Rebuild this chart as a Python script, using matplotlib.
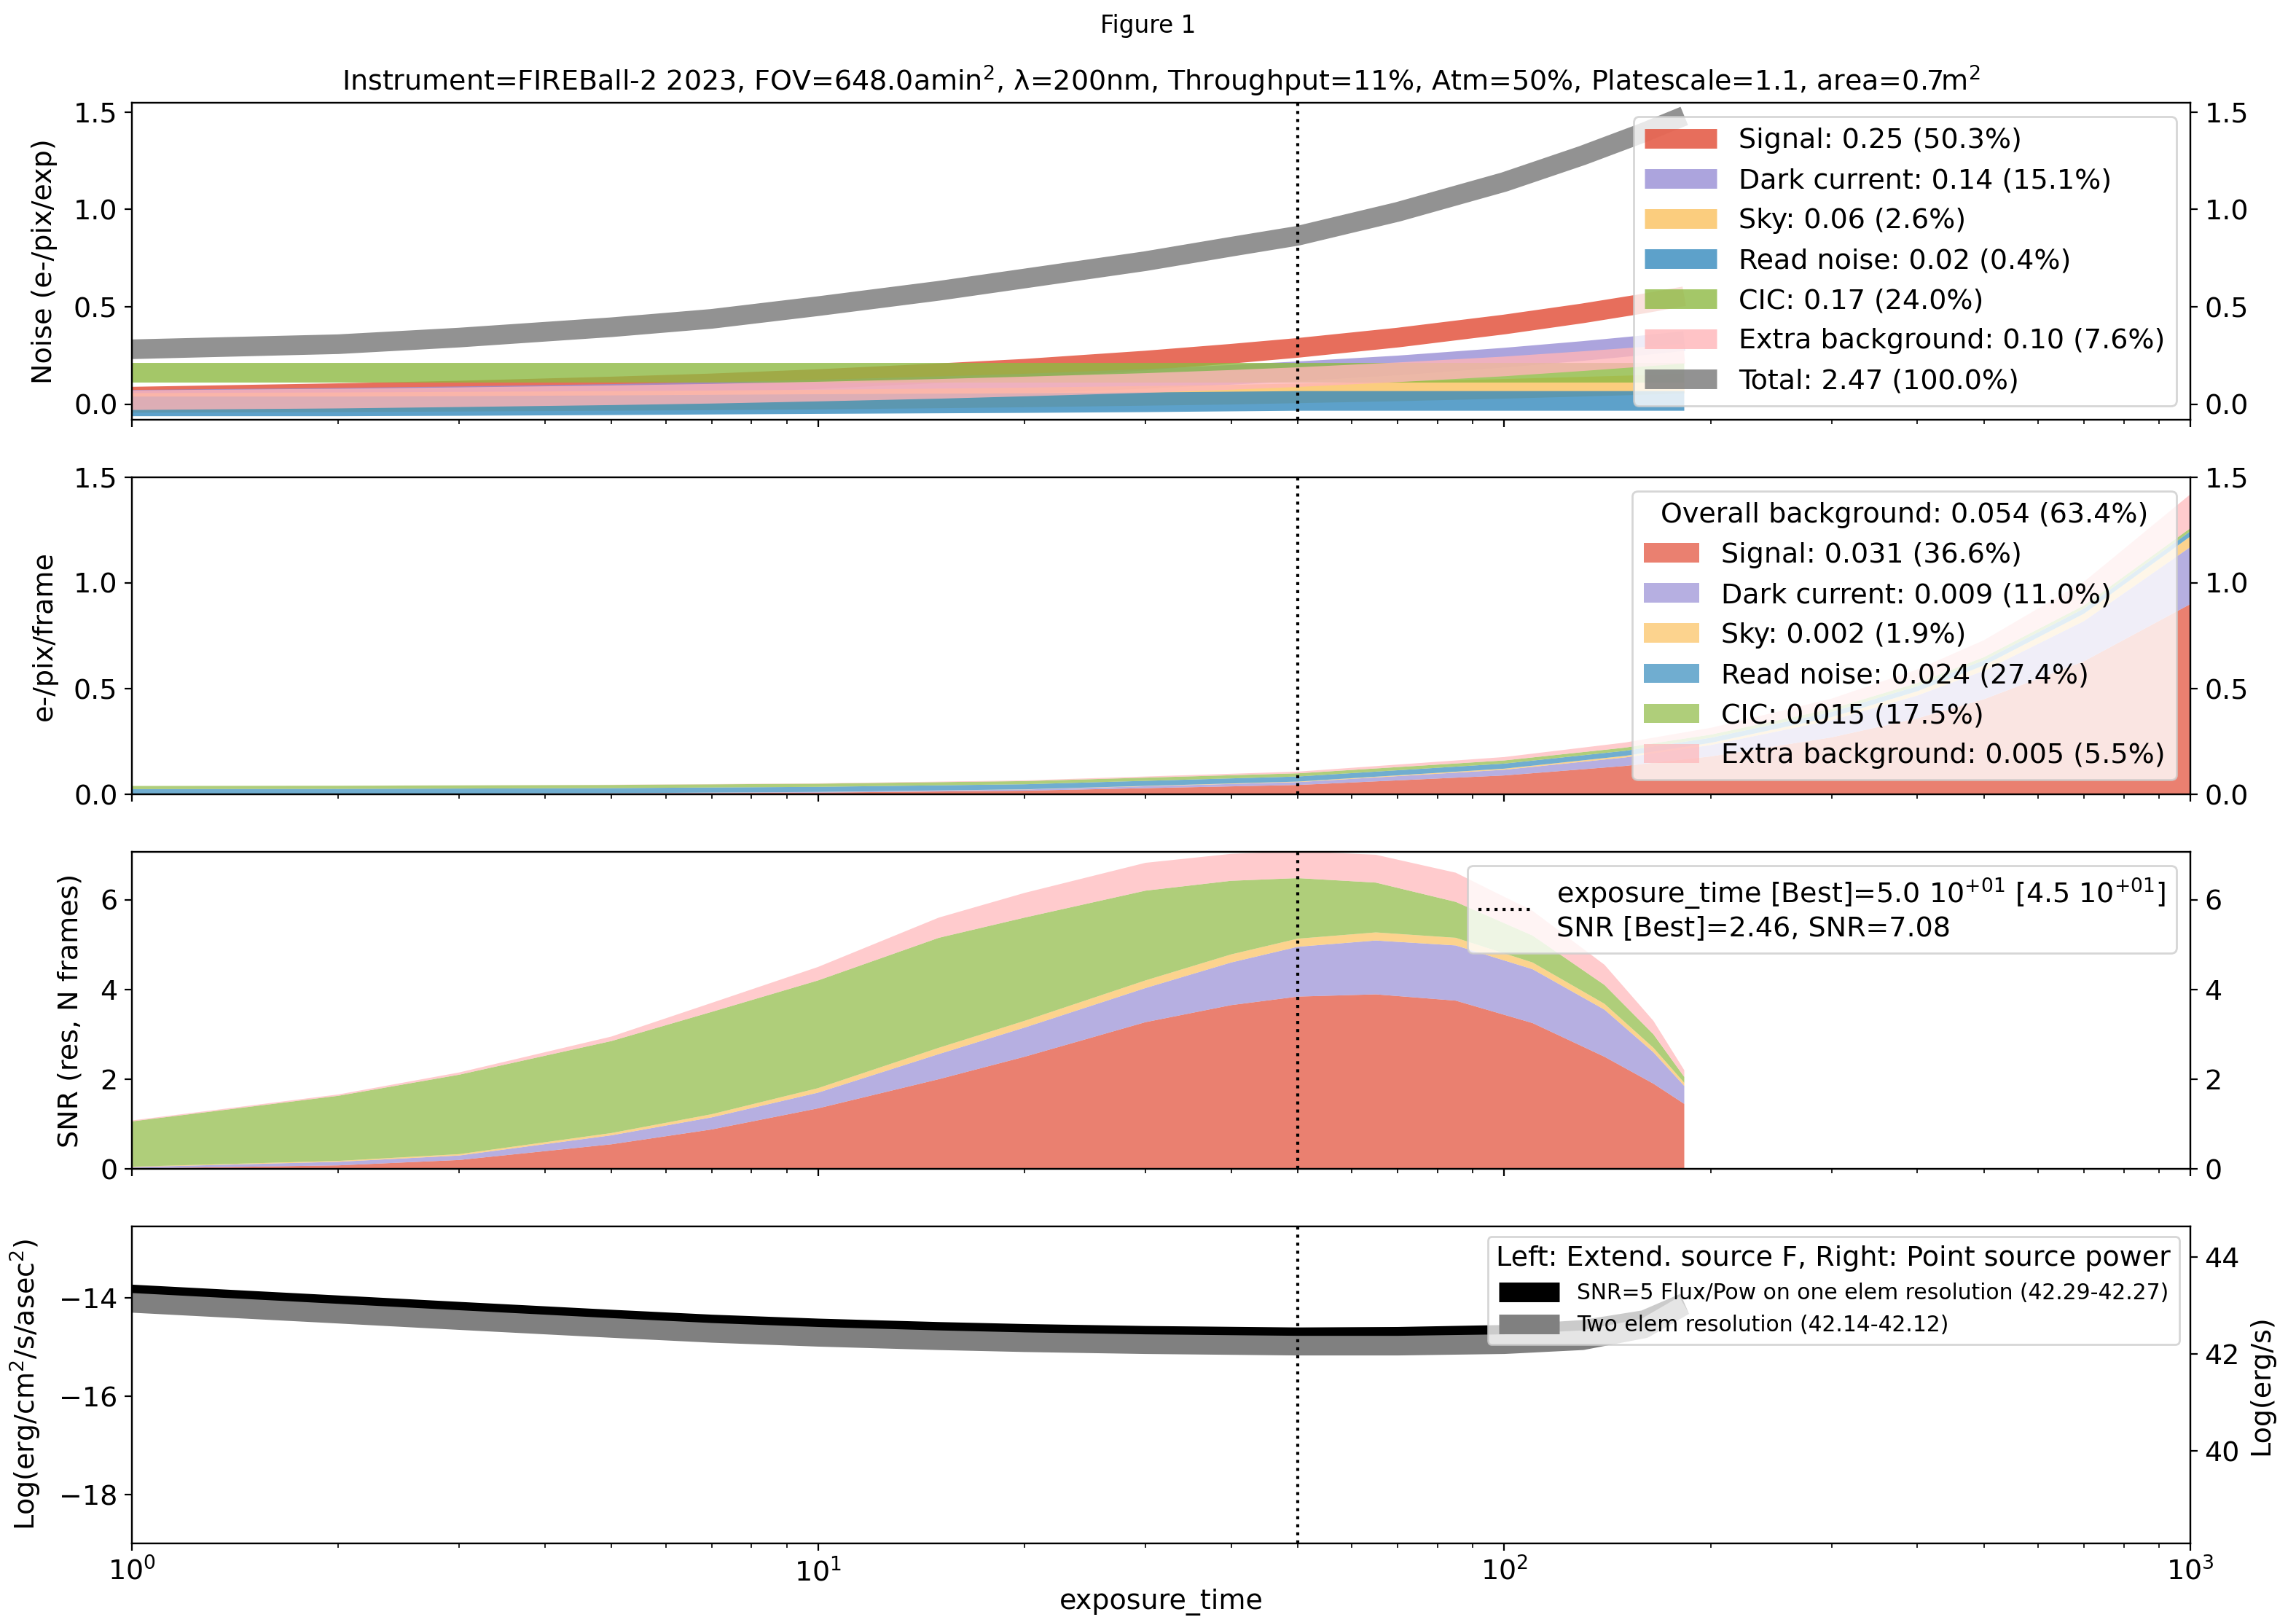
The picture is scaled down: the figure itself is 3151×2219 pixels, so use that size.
import matplotlib
matplotlib.use('Agg')
import matplotlib.pyplot as plt

plt.rcParams['font.size'] = 13.7

# ---- data ----
# panel 1: noise per component (e-/pix/exp) vs exposure time
x_noise = [1, 2, 3, 5, 7, 10, 15, 20, 30, 40, 50, 70, 100, 130, 160, 183]
noise_signal = [0.04, 0.058, 0.071, 0.092, 0.108, 0.13, 0.16, 0.183, 0.225, 0.26, 0.29, 0.343, 0.41, 0.467, 0.518, 0.555]
noise_dark = [0.024, 0.034, 0.042, 0.054, 0.064, 0.076, 0.093, 0.107, 0.131, 0.152, 0.17, 0.2, 0.24, 0.274, 0.304, 0.325]
noise_sky = [0.008, 0.011, 0.014, 0.018, 0.021, 0.025, 0.031, 0.036, 0.044, 0.05, 0.057, 0.067, 0.08, 0.091, 0.1, 0.108]
noise_rn = [-0.01, -0.01, -0.008, -0.004, -0.001, 0.002, 0.005, 0.007, 0.011, 0.015, 0.018, 0.018, 0.018, 0.018, 0.018, 0.018]
noise_cic = [0.165, 0.165, 0.165, 0.165, 0.165, 0.165, 0.165, 0.165, 0.165, 0.165, 0.165, 0.165, 0.165, 0.165, 0.165, 0.165]
noise_extra = [0.022, 0.03, 0.037, 0.047, 0.055, 0.066, 0.08, 0.092, 0.11, 0.126, 0.14, 0.165, 0.195, 0.222, 0.245, 0.26]
noise_total = [0.283, 0.309, 0.343, 0.396, 0.439, 0.504, 0.583, 0.646, 0.735, 0.809, 0.865, 0.988, 1.141, 1.277, 1.396, 1.48]
noise_labels = ['Signal: 0.25 (50.3%)', 'Dark current: 0.14 (15.1%)', 'Sky: 0.06 (2.6%)',
                'Read noise: 0.02 (0.4%)', 'CIC: 0.17 (24.0%)', 'Extra background: 0.10 (7.6%)',
                'Total: 2.47 (100.0%)']

# panel 2: electrons per pixel per frame (stacked)
x_frame = [1, 2, 5, 10, 20, 50, 100, 150, 200, 300, 400, 500, 700, 1000]
frame_signal = [0.0009, 0.0018, 0.0045, 0.009, 0.018, 0.045, 0.09, 0.135, 0.18, 0.27, 0.36, 0.45, 0.63, 0.90]
frame_dark = [0.0003, 0.0005, 0.0014, 0.0027, 0.0054, 0.0135, 0.027, 0.04, 0.054, 0.081, 0.108, 0.135, 0.19, 0.27]
frame_sky = [0.00005, 0.0001, 0.00025, 0.0005, 0.001, 0.0025, 0.005, 0.0075, 0.01, 0.015, 0.02, 0.025, 0.035, 0.05]
frame_rn = [0.024, 0.024, 0.024, 0.024, 0.024, 0.024, 0.024, 0.024, 0.024, 0.024, 0.024, 0.024, 0.024, 0.024]
frame_cic = [0.015, 0.015, 0.015, 0.015, 0.015, 0.015, 0.015, 0.015, 0.015, 0.015, 0.015, 0.015, 0.015, 0.015]
frame_extra = [0.0002, 0.0003, 0.0008, 0.0016, 0.0032, 0.008, 0.016, 0.024, 0.032, 0.048, 0.064, 0.08, 0.112, 0.16]
frame_labels = ['Signal: 0.031 (36.6%)', 'Dark current: 0.009 (11.0%)', 'Sky: 0.002 (1.9%)',
                'Read noise: 0.024 (27.4%)', 'CIC: 0.015 (17.5%)', 'Extra background: 0.005 (5.5%)']

# panel 3: SNR contributions (stacked)
x_snr = [1, 2, 3, 5, 7, 10, 15, 20, 30, 40, 50, 65, 85, 110, 140, 165, 183]
snr_signal = [0.01, 0.08, 0.2, 0.55, 0.88, 1.35, 2.0, 2.5, 3.27, 3.65, 3.84, 3.89, 3.75, 3.25, 2.5, 1.9, 1.45]
snr_dark = [0.03, 0.08, 0.1, 0.2, 0.27, 0.35, 0.56, 0.65, 0.76, 0.95, 1.11, 1.2, 1.23, 1.2, 1.05, 0.7, 0.4]
snr_sky = [0.01, 0.02, 0.03, 0.05, 0.07, 0.1, 0.14, 0.15, 0.17, 0.18, 0.18, 0.18, 0.17, 0.15, 0.13, 0.1, 0.07]
snr_cic = [1.01, 1.45, 1.77, 2.05, 2.28, 2.4, 2.45, 2.3, 2.0, 1.64, 1.35, 1.11, 0.8, 0.6, 0.42, 0.3, 0.13]
snr_extra = [0.02, 0.03, 0.05, 0.1, 0.2, 0.3, 0.45, 0.55, 0.62, 0.6, 0.6, 0.62, 0.65, 0.55, 0.45, 0.3, 0.15]

# panel 4: limiting flux (log)
x_flux = [1, 2, 3, 5, 7, 10, 15, 20, 30, 50, 70, 100, 130, 160, 183]
flux_one_elem = [-13.93, -14.15, -14.28, -14.44, -14.54, -14.62, -14.69, -14.73, -14.77, -14.8, -14.79, -14.75, -14.65, -14.45, -14.1]
flux_two_elem = [-14.10, -14.32, -14.45, -14.61, -14.71, -14.79, -14.86, -14.90, -14.94, -14.97, -14.97, -14.94, -14.86, -14.62, -14.15]

best_time = 50

# ---- style ----
comp_colors = ['#E24A33', '#988ED5', '#FBC15E', '#348ABD', '#8EBA42', '#FFB5B8', '#777777']
band_lw = 9.7

fig, axes = plt.subplots(4, 1, sharex=True, figsize=(3151 / 200, 2219 / 200), dpi=200)
fig.subplots_adjust(left=0.0574, right=0.954, bottom=0.0455, top=0.9365, hspace=0.18)
ax1, ax2, ax3, ax4 = axes

fig.text(0.5, 1 - 36 / 2219, 'Figure 1', ha='center', va='center', fontsize=11.8)

# panel 1
noise_series = [noise_signal, noise_dark, noise_sky, noise_rn, noise_cic, noise_extra, noise_total]
for vals, c, lab in zip(noise_series, comp_colors, noise_labels):
    ax1.plot(x_noise, vals, color=c, lw=band_lw, alpha=0.8, label=lab, solid_capstyle='butt')
ax1.set_ylim(-0.08, 1.548)
ax1.set_ylabel('Noise (e-/pix/exp)', labelpad=8)
ax1.set_title('Instrument=FIREBall-2 2023, FOV=648.0amin$^2$, \u03bb=200nm, Throughput=11%, '
              'Atm=50%, Platescale=1.1, area=0.7m$^2$', fontsize=13.7)
ax1.legend(loc='upper right', handlelength=2.6)

# panel 2
ax2.stackplot(x_frame, frame_signal, frame_dark, frame_sky, frame_rn, frame_cic, frame_extra,
              colors=comp_colors[:6], alpha=0.7, labels=frame_labels)
ax2.set_ylim(0, 1.5)
ax2.set_ylabel('e-/pix/frame', labelpad=8)
ax2.legend(loc='upper right', title='Overall background: 0.054 (63.4%)')

# panel 3
ax3.stackplot(x_snr, snr_signal, snr_dark, snr_sky, snr_cic, snr_extra,
              colors=[comp_colors[0], comp_colors[1], comp_colors[2], comp_colors[4], comp_colors[5]],
              alpha=0.7)
ax3.set_ylim(0, 7.07)
ax3.set_ylabel('SNR (res, N frames)', labelpad=8)

# panel 4
ax4.plot(x_flux, flux_one_elem, color='k', lw=band_lw, solid_capstyle='butt',
         label='SNR=5 Flux/Pow on one elem resolution (42.29-42.27)')
ax4.plot(x_flux, flux_two_elem, color='0.5', lw=band_lw, solid_capstyle='butt',
         label='Two elem resolution (42.14-42.12)')
ax4.set_ylim(-18.99, -12.54)
ax4.set_yticks([-18, -16, -14])
ax4.set_ylabel('Log(erg/cm$^2$/s/asec$^2$)', labelpad=8)
ax4.set_xlabel('exposure_time', labelpad=1)
ax4.legend(loc='upper right', fontsize=10.7, handlelength=2.8,
           title='Left: Extend. source F, Right: Point source power', title_fontsize=13.7)

for ax in axes:
    ax.axvline(best_time, color='k', ls=':', lw=1.5,
               label='exposure_time [Best]=5.0 $10^{+01}$ [4.5 $10^{+01}$]\nSNR [Best]=2.46, SNR=7.08')
ax3.legend(loc='upper right')

ax4.set_xscale('log')
ax4.set_xlim(1, 1000)

# right-hand axes
for ax, ticks in zip([ax1, ax2, ax3], [[0, 0.5, 1.0, 1.5], [0, 0.5, 1.0, 1.5], [0, 2, 4, 6]]):
    ax.set_yticks(ticks)
    tw = ax.twinx()
    tw.set_ylim(ax.get_ylim())
    tw.set_yticks(ticks)
tw4 = ax4.twinx()
tw4.set_ylim(38.1, 44.63)
tw4.set_yticks([40, 42, 44])
tw4.set_ylabel('Log(erg/s)')

fig.savefig('out.png', dpi=200)
